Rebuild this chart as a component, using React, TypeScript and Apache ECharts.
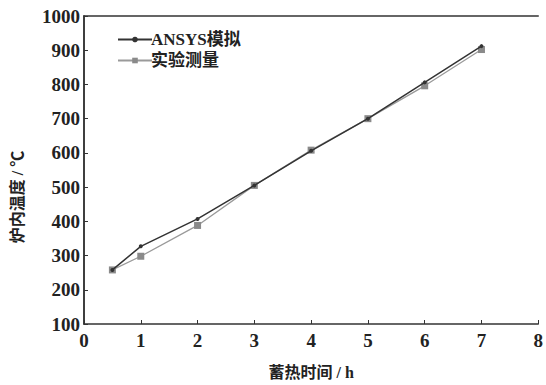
import React, { useEffect, useRef } from "react";
import * as echarts from "echarts";

const xValues = [0.5, 1, 2, 3, 4, 5, 6, 7];
const ansysValues = [258, 327, 407, 505, 606, 700, 806, 912];
const measuredValues = [258, 298, 388, 505, 608, 700, 796, 902];
const seriesNames = ["ANSYS模拟", "实验测量"];
const xTitle = "蓄热时间 / h";
const yTitle = "炉内温度 / ℃";

const FONT = "Liberation Serif, Noto Sans CJK SC, serif";

export default function App() {
  const ref = useRef<HTMLDivElement>(null);
  useEffect(() => {
    if (!ref.current) return;
    const chart = echarts.init(ref.current, null, { renderer: "svg" });
    const axisLine = { show: true, lineStyle: { color: "#333", width: 1.5 } };
    const label = { color: "#222", fontSize: 19, fontWeight: "bold" as const, fontFamily: FONT };
    chart.setOption({
      animation: false,
      backgroundColor: "#fff",
      grid: { left: 84, right: 4, top: 16, bottom: 58 },
      legend: {
        data: seriesNames,
        orient: "vertical",
        left: 112,
        top: 26,
        itemWidth: 34,
        itemHeight: 7,
        itemGap: 4,
        textStyle: { color: "#222", fontSize: 17, fontWeight: "bold", fontFamily: FONT, padding: [0, 0, 0, -6] },
      },
      graphic: [
        {
          type: "text",
          x: 17,
          y: 197,
          rotation: Math.PI / 2,
          style: {
            text: yTitle,
            fill: "#222",
            fontSize: 16,
            fontWeight: "bold",
            fontFamily: FONT,
            align: "center",
            verticalAlign: "middle",
          },
        },
      ],
      xAxis: [
        {
          type: "value",
          min: 0,
          max: 8,
          interval: 1,
          axisLine,
          axisTick: { show: true, inside: true, length: 4, lineStyle: { color: "#333" } },
          axisLabel: { ...label, margin: 7 },
          splitLine: { show: false },
          name: xTitle,
          nameLocation: "middle",
          nameGap: 40,
          nameTextStyle: { color: "#222", fontSize: 16, fontWeight: "bold", fontFamily: FONT },
        },
        {
          type: "value",
          position: "top",
          min: 0,
          max: 8,
          axisLine,
          axisTick: { show: false },
          axisLabel: { show: false },
          splitLine: { show: false },
        },
      ],
      yAxis: [
        {
          type: "value",
          min: 100,
          max: 1000,
          interval: 100,
          axisLine,
          axisTick: { show: true, inside: true, length: 4, lineStyle: { color: "#333" } },
          axisLabel: { ...label, margin: 4, formatter: (v: number) => String(v) },
          splitLine: { show: false },
        },
        {
          type: "value",
          position: "right",
          min: 100,
          max: 1000,
          axisLine,
          axisTick: { show: false },
          axisLabel: { show: false },
          splitLine: { show: false },
        },
      ],
      series: [
        {
          name: seriesNames[0],
          type: "line",
          data: xValues.map((x, i) => [x, ansysValues[i]]),
          symbol: "circle",
          symbolSize: 4,
          itemStyle: { color: "#333" },
          lineStyle: { color: "#333", width: 1.5 },
          z: 3,
        },
        {
          name: seriesNames[1],
          type: "line",
          data: xValues.map((x, i) => [x, measuredValues[i]]),
          symbol: "rect",
          symbolSize: 7,
          itemStyle: { color: "#8a8a8a" },
          lineStyle: { color: "#9a9a9a", width: 1.3 },
          z: 2,
        },
      ],
    });
    return () => chart.dispose();
  }, []);
  return <div ref={ref} style={{ width: 546, height: 385, position: "absolute", left: 0, top: 0 }} />;
}
